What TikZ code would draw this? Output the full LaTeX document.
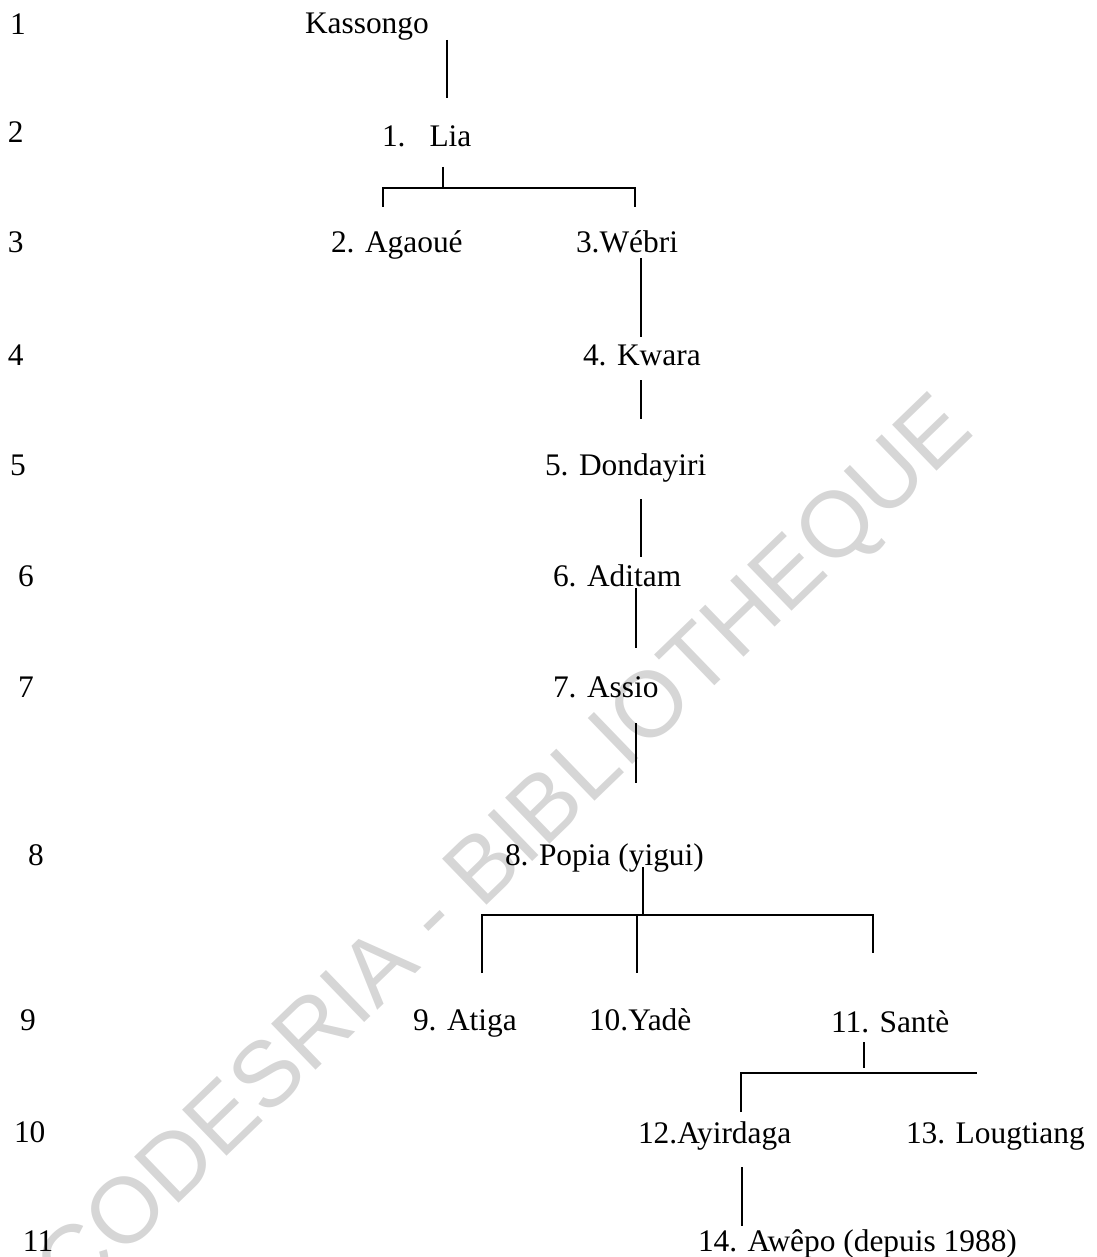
\documentclass[tikz,border=0pt]{standalone}
\usepackage{fontspec}
\setmainfont{Liberation Serif}
\newfontfamily\wmfont{Liberation Sans}
\begin{document}
\begin{tikzpicture}[x=1pt,y=-1pt,
  lbl/.style={anchor=base west, inner sep=0pt, outer sep=0pt, font=\fontsize{31.4}{36}\selectfont},
  link/.style={line width=1.5pt, line cap=butt},
  wmark/.style={text=black!16, inner sep=0pt, font=\wmfont\fontsize{93}{100}\selectfont}]
\useasboundingbox (0,0) rectangle (1096,1257);
% watermark
\node[wmark, rotate=44] (wm) at (508,852) {CODESRIA - BIBLIOTHEQUE};
% row numbers
\node[lbl] (r1) at (10,35) {1};
\node[lbl] (r2) at (8,143) {2};
\node[lbl] (r3) at (8,253) {3};
\node[lbl] (r4) at (8,365) {4};
\node[lbl] (r5) at (10,475) {5};
\node[lbl] (r6) at (18,586) {6};
\node[lbl] (r7) at (18,697) {7};
\node[lbl] (r8) at (28,865) {8};
\node[lbl] (r9) at (20,1030) {9};
\node[lbl] (r10) at (14,1142) {10};
\node[lbl] (r11) at (23,1251) {11};
% persons
\node[lbl] (kas) at (305,34) {Kassongo};
\node[lbl] (lia) at (382,147) {1.\hspace{24pt}Lia};
\node[lbl] (aga) at (331,252) {2. Agaoué};
\node[lbl] (web) at (576,252) {3.Wébri};
\node[lbl] (kwa) at (583,365) {4. Kwara};
\node[lbl] (don) at (545,475) {5. Dondayiri};
\node[lbl] (adi) at (553,586) {6. Aditam};
\node[lbl] (ass) at (553,697) {7. Assio};
\node[lbl] (pop) at (505,865) {8. Popia (yigui)};
\node[lbl] (ati) at (413,1030) {9. Atiga};
\node[lbl] (yad) at (589,1030) {10.Yadè};
\node[lbl] (san) at (831,1032) {11. Santè};
\node[lbl] (ayi) at (638,1143) {12.Ayirdaga};
\node[lbl] (lou) at (906,1143) {13. Lougtiang};
\node[lbl] (awe) at (698,1251) {14. Awêpo (depuis 1988)};
% connector points
\coordinate (kasA) at (447,40);  \coordinate (kasB) at (447,98);
\coordinate (liaA) at (443,167); \coordinate (liaB) at (443,188);
\coordinate (liaL) at (383,188); \coordinate (liaR) at (635,188);
\coordinate (agaT) at (383,207); \coordinate (webT) at (635,207);
\coordinate (webA) at (641,258); \coordinate (webB) at (641,337);
\coordinate (kwaA) at (641,380); \coordinate (kwaB) at (641,419);
\coordinate (donA) at (641,499); \coordinate (donB) at (641,557);
\coordinate (adiA) at (636,588); \coordinate (adiB) at (636,648);
\coordinate (assA) at (636,723); \coordinate (assB) at (636,783);
\coordinate (popA) at (643,867); \coordinate (popB) at (643,915);
\coordinate (popL) at (482,915); \coordinate (popM) at (637,915); \coordinate (popR) at (873,915);
\coordinate (atiT) at (482,973); \coordinate (yadT) at (637,973); \coordinate (sanT) at (873,953);
\coordinate (sanA) at (864,1042); \coordinate (sanB) at (864,1068);
\coordinate (sanL) at (741,1073); \coordinate (sanR) at (977,1073);
\coordinate (ayiT) at (741,1112);
\coordinate (ayiA) at (742,1167); \coordinate (ayiB) at (742,1226);
% connectors
\draw[link] (kasA) -- (kasB);
\draw[link] (liaA) -- (liaB);
\draw[link] (agaT) -- (liaL) -- (liaR) -- (webT);
\draw[link] (webA) -- (webB);
\draw[link] (kwaA) -- (kwaB);
\draw[link] (donA) -- (donB);
\draw[link] (adiA) -- (adiB);
\draw[link] (assA) -- (assB);
\draw[link] (popA) -- (popB);
\draw[link] (atiT) -- (popL) -- (popR) -- (sanT);
\draw[link] (popM) -- (yadT);
\draw[link] (sanA) -- (sanB);
\draw[link] (ayiT) -- (sanL) -- (sanR);
\draw[link] (ayiA) -- (ayiB);
\end{tikzpicture}
\end{document}
